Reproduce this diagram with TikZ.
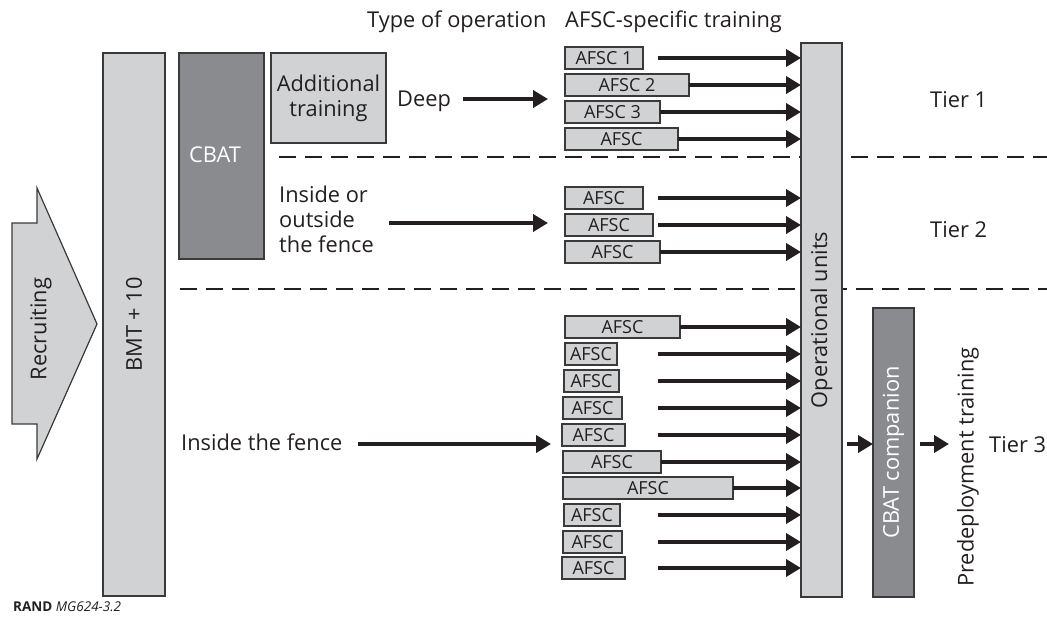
\documentclass[tikz,border=0pt]{standalone}
\usepackage{fontspec}
\setmainfont{Open Sans}
\usetikzlibrary{arrows.meta}
\definecolor{lgray}{HTML}{D1D2D4}
\definecolor{dgray}{HTML}{8A8B8E}
\definecolor{edge}{HTML}{3A3A3A}
\definecolor{ink}{HTML}{231F20}
\tikzset{
  lbox/.style={draw=edge, fill=lgray, line width=1.2pt, inner sep=0pt, outer sep=0pt, anchor=north west},
  dbox/.style={draw=edge, fill=dgray, line width=1.2pt, inner sep=0pt, outer sep=0pt, anchor=north west},
  afsc/.style={lbox, minimum height=22pt, font=\fontsize{18}{20}\selectfont, text=ink},
  arr/.style={draw=ink, line width=4pt, -{Triangle[length=15pt,width=17pt]}},
  tierline/.style={draw=ink, line width=1.5pt, dash pattern=on 17pt off 9pt},
  txt/.style={font=\fontsize{21.8}{25}\selectfont, text=ink, inner sep=0pt},
  wtxt/.style={font=\fontsize{21.8}{25}\selectfont, text=white, inner sep=0pt},
}
\newcommand{\afscnode}[5]{\node[afsc, minimum width=#4pt] (#1) at (#2,#3) {#5};}
\begin{document}
\begin{tikzpicture}[x=1pt,y=-1pt]
\useasboundingbox (0,0) rectangle (1047,622);
% tier dashed lines
\coordinate (d1a) at (279,157);
\coordinate (d1b) at (1047,157);
\coordinate (d2a) at (180,289);
\coordinate (d2b) at (1047,289);
\draw[tierline] (d1a) -- (d1b);
\draw[tierline] (d2a) -- (d2b);
% recruiting arrow
\draw[draw=edge, fill=lgray, line width=1.2pt] (12,223) -- (37,223) -- (37,188) -- (97,324) -- (37,459) -- (37,424) -- (12,424) -- cycle;
\node[txt, rotate=90] (rec) at (41,329) {Recruiting};
% BMT
\node[lbox, minimum width=62pt, minimum height=543pt] (bmt) at (103,53) {};
\node[txt, rotate=90] (bmtt) at (bmt.center) {BMT + 10};
% CBAT
\node[dbox, minimum width=85pt, minimum height=206pt] (cbat) at (179,53) {};
\node[wtxt] (cbatt) at (215,155) {CBAT};
% Additional training
\node[lbox, minimum width=115pt, minimum height=90pt, txt, align=center] (add) at (271,53) {Additional\\training};
% headers
\node[txt, anchor=base west] (h1) at (367,27) {Type of operation};
\node[txt, anchor=base west] (h2) at (565,27) {AFSC-specific training};
% operations text
\node[txt, anchor=base west] (deep) at (397,106) {Deep};
\node[txt, anchor=west, align=left] (io) at (279,219) {Inside or\\outside\\the fence};
\node[txt, anchor=base west] (inf) at (181,450) {Inside the fence};
\coordinate (deepS) at (463,99);
\coordinate (deepE) at (548,99);
\coordinate (ioS) at (389,223);
\coordinate (ioE) at (548,223);
\coordinate (infS) at (358,444);
\coordinate (infE) at (551,444);
\draw[arr] (deepS) -- (deepE);
\draw[arr] (ioS) -- (ioE);
\draw[arr] (infS) -- (infE);
% operational units
\node[lbox, minimum width=41pt, minimum height=554pt] (ops) at (801,43) {};
\node[txt, rotate=90] (opst) at (ops.center) {Operational units};
% AFSC boxes
\afscnode{a1}{565}{47}{78}{AFSC 1}
\afscnode{a2}{565}{74}{124}{AFSC 2}
\afscnode{a3}{565}{101}{95}{AFSC 3}
\afscnode{a4}{565}{128}{113}{AFSC}
\afscnode{b1}{565}{187}{78}{AFSC}
\afscnode{b2}{565}{214}{88}{AFSC}
\afscnode{b3}{565}{241}{95}{AFSC}
\afscnode{c1}{565}{316}{115}{AFSC}
\afscnode{c2}{565}{343}{52}{AFSC}
\afscnode{c3}{564}{370}{55}{AFSC}
\afscnode{c4}{563}{397}{59}{AFSC}
\afscnode{c5}{562}{424}{63}{AFSC}
\afscnode{c6}{563}{451}{98}{AFSC}
\afscnode{c7}{563}{477}{170}{AFSC}
\afscnode{c8}{564}{504}{56}{AFSC}
\afscnode{c9}{563}{531}{59}{AFSC}
\afscnode{c10}{562}{557}{63}{AFSC}
\coordinate (st) at (658,0);
\draw[arr] (a1.east -| st) -- (a1.east -| ops.west);
\draw[arr] (a2.east) -- (a2.east -| ops.west);
\draw[arr] (a3.east) -- (a3.east -| ops.west);
\draw[arr] (a4.east) -- (a4.east -| ops.west);
\draw[arr] (b1.east -| st) -- (b1.east -| ops.west);
\draw[arr] (b2.east -| st) -- (b2.east -| ops.west);
\draw[arr] (b3.east) -- (b3.east -| ops.west);
\draw[arr] (c1.east) -- (c1.east -| ops.west);
\draw[arr] (c2.east -| st) -- (c2.east -| ops.west);
\draw[arr] (c3.east -| st) -- (c3.east -| ops.west);
\draw[arr] (c4.east -| st) -- (c4.east -| ops.west);
\draw[arr] (c5.east -| st) -- (c5.east -| ops.west);
\draw[arr] (c6.east) -- (c6.east -| ops.west);
\draw[arr] (c7.east) -- (c7.east -| ops.west);
\draw[arr] (c8.east -| st) -- (c8.east -| ops.west);
\draw[arr] (c9.east -| st) -- (c9.east -| ops.west);
\draw[arr] (c10.east -| st) -- (c10.east -| ops.west);
% CBAT companion
\node[dbox, minimum width=41pt, minimum height=289pt] (comp) at (873,308) {};
\node[wtxt, rotate=90] (compt) at (comp.center) {CBAT companion};
\coordinate (opsS) at (847,444);
\coordinate (pdS) at (920,444);
\coordinate (pdE) at (949,444);
\draw[arr] (opsS) -- (opsS -| comp.west);
\draw[arr] (pdS) -- (pdE);
\node[txt, rotate=90] (pd) at (968,467) {Predeployment training};
% tiers
\node[txt, anchor=base west] (t1) at (930,107) {Tier 1};
\node[txt, anchor=base west] (t2) at (930,237) {Tier 2};
\node[txt, anchor=base west] (t3) at (989,452) {Tier 3};
% credit
\node[anchor=base west, inner sep=0pt, font=\fontsize{13.5}{15}\selectfont, text=ink] (rand) at (13,611) {\textbf{RAND} \textit{MG624-3.2}};
\end{tikzpicture}
\end{document}
